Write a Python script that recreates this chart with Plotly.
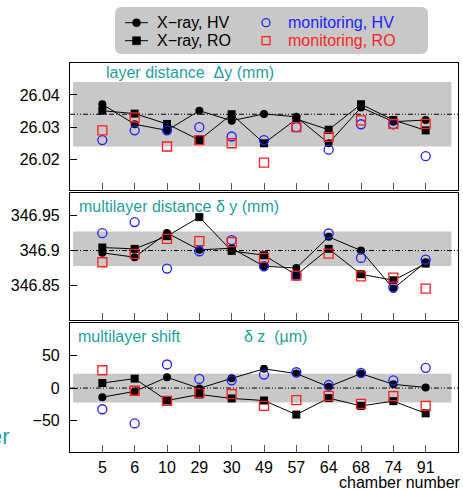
import plotly.graph_objects as go

chambers = ["5", "6", "10", "29", "30", "49", "57", "64", "68", "74", "91"]

# Panel 1: layer distance (mm)
dy_xray_hv = [26.0371, 26.0309, 26.0290, 26.0351, 26.0320, 26.0341, 26.0332, 26.0250, 26.0361, 26.0317, 26.0322]
dy_xray_ro = [26.0351, 26.0342, 26.0310, 26.0260, 26.0340, 26.0250, 26.0325, 26.0292, 26.0371, 26.0322, 26.0290]
dy_mon_hv = [26.0260, 26.0290, 26.0290, 26.0300, 26.0271, 26.0260, 26.0300, 26.0230, 26.0309, 26.0309, 26.0210]
dy_mon_ro = [26.0290, 26.0330, 26.0240, 26.0260, 26.0250, 26.0190, 26.0300, 26.0270, 26.0321, 26.0310, 26.0310]

# Panel 2: multilayer distance (mm)
mdy_xray_hv = [346.8967, 346.8905, 346.9250, 346.9010, 346.9033, 346.8776, 346.8752, 346.9195, 346.9000, 346.8457, 346.8833]
mdy_xray_ro = [346.9043, 346.9024, 346.9205, 346.9476, 346.8995, 346.8933, 346.8652, 346.9024, 346.8662, 346.8576, 346.8814]
mdy_mon_hv = [346.9248, 346.9405, 346.8743, 346.8990, 346.9148, 346.8776, 346.8643, 346.9243, 346.8895, 346.8476, 346.8871]
mdy_mon_ro = [346.8833, 346.8952, 346.9167, 346.9133, 346.9119, 346.8895, 346.8643, 346.8957, 346.8633, 346.8614, 346.8457]

# Panel 3: multilayer shift (um)
dz_xray_hv = [-14.1, -5.2, 16.7, -0.5, 15.1, 29.7, 22.4, 2.1, 22.4, 5.7, 1.0]
dz_xray_ro = [7.8, 14.6, -19.3, -9.9, -16.1, -19.3, -41.1, -15.6, -27.6, -20.3, -39.1]
dz_mon_hv = [-32.8, -54.7, 36.5, 14.1, 12.0, 20.8, 24.5, 4.7, 23.4, 12.0, 31.3]
dz_mon_ro = [27.6, -4.2, -19.8, -7.8, -9.4, -27.6, -18.8, -12.0, -24.5, -12.5, -27.6]

# reference lines and tolerance bands
ref_values = [26.034, 346.9, 0.0]
band_low = [26.024, 346.878, -22.3]
band_high = [26.044, 346.927, 22.3]

y_ticks = [[26.02, 26.03, 26.04], [346.85, 346.9, 346.95], [-50, 0, 50]]
y_ticktext = [["26.02", "26.03", "26.04"], ["346.85", "346.9", "346.95"], ["\u221250", "0", "50"]]
y_ranges = [[26.0105, 26.0499], [346.801, 346.982], [-99.0, 100.7]]
domains = [[0.6735, 1.0], [0.3393, 0.6658], [0.0, 0.3316]]

legend_labels = ["X\u2212ray, HV", "X\u2212ray, RO", "monitoring, HV", "monitoring, RO"]

BLUE = "#1f1fff"
RED = "#ff1f1f"
TEAL = "#1fa09c"
FONT = "Liberation Sans, Arial, sans-serif"

W, H = 463, 490
ML, MR, MT, MB = 70, 5, 63, 38
PW, PH = W - ML - MR, H - MT - MB


def xp(px):
    """pixel x -> paper coordinate"""
    return (px - ML) / PW


def yp(py):
    """pixel y -> paper coordinate"""
    return (H - MB - py) / PH


panels = [
    (dy_xray_hv, dy_xray_ro, dy_mon_hv, dy_mon_ro),
    (mdy_xray_hv, mdy_xray_ro, mdy_mon_hv, mdy_mon_ro),
    (dz_xray_hv, dz_xray_ro, dz_mon_hv, dz_mon_ro),
]

fig = go.Figure()
for i, (xhv, xro, mhv, mro) in enumerate(panels):
    xa = "x" if i == 0 else "x%d" % (i + 1)
    ya = "y" if i == 0 else "y%d" % (i + 1)
    fig.add_trace(go.Scatter(x=chambers, y=xhv, mode="lines+markers", name=legend_labels[0],
                             line=dict(color="black", width=1),
                             marker=dict(symbol="circle", size=8, color="black"),
                             xaxis=xa, yaxis=ya, showlegend=False))
    fig.add_trace(go.Scatter(x=chambers, y=xro, mode="lines+markers", name=legend_labels[1],
                             line=dict(color="black", width=1),
                             marker=dict(symbol="square", size=8, color="black"),
                             xaxis=xa, yaxis=ya, showlegend=False))
    fig.add_trace(go.Scatter(x=chambers, y=mhv, mode="markers", name=legend_labels[2],
                             marker=dict(symbol="circle-open", size=9, color=BLUE, line=dict(width=1.3)),
                             xaxis=xa, yaxis=ya, showlegend=False))
    fig.add_trace(go.Scatter(x=chambers, y=mro, mode="markers", name=legend_labels[3],
                             marker=dict(symbol="square-open", size=9, color=RED, line=dict(width=1.3)),
                             xaxis=xa, yaxis=ya, showlegend=False))

    fig.add_shape(type="rect", xref="%s domain" % xa, yref=ya, x0=0.008, x1=0.983,
                  y0=band_low[i], y1=band_high[i], fillcolor="#c8c8c8", line=dict(width=0),
                  layer="below")
    fig.add_shape(type="line", xref="%s domain" % xa, yref=ya, x0=0, x1=1,
                  y0=ref_values[i], y1=ref_values[i],
                  line=dict(color="black", width=1, dash="5px,2px,1px,2px,1px,2px"))

axis_common = dict(showline=True, linecolor="black", linewidth=1.2, mirror=True,
                   showgrid=False, zeroline=False, ticks="inside", ticklen=7,
                   tickfont=dict(family=FONT, size=16, color="black"))

layout = dict()
for i in range(3):
    xk = "xaxis" if i == 0 else "xaxis%d" % (i + 1)
    yk = "yaxis" if i == 0 else "yaxis%d" % (i + 1)
    ya = "y" if i == 0 else "y%d" % (i + 1)
    xa = "x" if i == 0 else "x%d" % (i + 1)
    layout[xk] = dict(axis_common, type="category", range=[-1, 11], anchor=ya,
                      domain=[0, 1], showticklabels=(i == 2), tickcolor="#555",
                      ticklabelstandoff=1)
    layout[yk] = dict(axis_common, range=y_ranges[i], anchor=xa, domain=domains[i],
                      tickvals=y_ticks[i], ticktext=y_ticktext[i], tickcolor="black",
                      ticklabelstandoff=6)
fig.update_layout(**layout)

# ---- manual legend box ----
lx0, lx1, ly0, ly1, r = 115, 428, 7, 54, 7
path = ("M {a},{b} L {c},{b} Q {d},{b} {d},{e} L {d},{f} Q {d},{g} {c},{g} "
        "L {a},{g} Q {h},{g} {h},{f} L {h},{e} Q {h},{b} {a},{b} Z").format(
    a=xp(lx0 + r), b=yp(ly0), c=xp(lx1 - r), d=xp(lx1), e=yp(ly0 + r),
    f=yp(ly1 - r), g=yp(ly1), h=xp(lx0))
fig.add_shape(type="path", xref="paper", yref="paper", path=path,
              fillcolor="#c8c8c8", line=dict(width=0), layer="below")

rows = [22.7, 40.7]
for k, row in enumerate(rows):
    fig.add_shape(type="line", xref="paper", yref="paper", x0=xp(125), x1=xp(148),
                  y0=yp(row), y1=yp(row), line=dict(color="black", width=1))
    fig.add_shape(type="circle" if k == 0 else "rect", xref="paper", yref="paper",
                  xsizemode="pixel", ysizemode="pixel", xanchor=xp(136.5), yanchor=yp(row),
                  x0=-4, x1=4, y0=-4, y1=4, fillcolor="black", line=dict(color="black", width=0.5))
    fig.add_shape(type="circle" if k == 0 else "rect", xref="paper", yref="paper",
                  xsizemode="pixel", ysizemode="pixel", xanchor=xp(266), yanchor=yp(row),
                  x0=-4, x1=4, y0=-4, y1=4, fillcolor="rgba(0,0,0,0)",
                  line=dict(color=BLUE if k == 0 else RED, width=1.3))

lann = dict(xref="paper", yref="paper", showarrow=False, xanchor="left", yanchor="middle")
fig.add_annotation(lann, x=xp(155), y=yp(rows[0]), text=legend_labels[0],
                   font=dict(family=FONT, size=16, color="black"))
fig.add_annotation(lann, x=xp(155), y=yp(rows[1]), text=legend_labels[1],
                   font=dict(family=FONT, size=16, color="black"))
fig.add_annotation(lann, x=xp(286), y=yp(rows[0]), text=legend_labels[2],
                   font=dict(family=FONT, size=16, color=BLUE))
fig.add_annotation(lann, x=xp(286), y=yp(rows[1]), text=legend_labels[3],
                   font=dict(family=FONT, size=16, color=RED))

# ---- panel titles and labels ----
ann = dict(xref="paper", yref="paper", showarrow=False, xanchor="left", yanchor="middle",
           font=dict(family=FONT, size=16, color=TEAL))
fig.add_annotation(ann, x=xp(104), y=yp(72.7), text="layer distance  \u0394y (mm)")
fig.add_annotation(ann, x=xp(77), y=yp(206.7), text="multilayer distance \u03b4 y (mm)")
fig.add_annotation(ann, x=xp(75.5), y=yp(336.7), text="multilayer shift")
fig.add_annotation(ann, x=xp(242), y=yp(336.7), text="\u03b4 z  (\u00b5m)")
fig.add_annotation(ann, x=xp(12), y=yp(436.7), xanchor="right", text="layer",
                   font=dict(family=FONT, size=22, color=TEAL))
fig.add_annotation(ann, x=xp(337), y=yp(482.5), text="chamber number",
                   font=dict(family=FONT, size=16, color="black"))

fig.update_layout(
    width=W, height=H,
    margin=dict(l=ML, r=MR, t=MT, b=MB),
    paper_bgcolor="white", plot_bgcolor="white",
    font=dict(family=FONT, size=16, color="black"),
    showlegend=False,
)

fig.write_html("out.html", config={"displayModeBar": False},
               post_script="document.body.style.margin='0';")
